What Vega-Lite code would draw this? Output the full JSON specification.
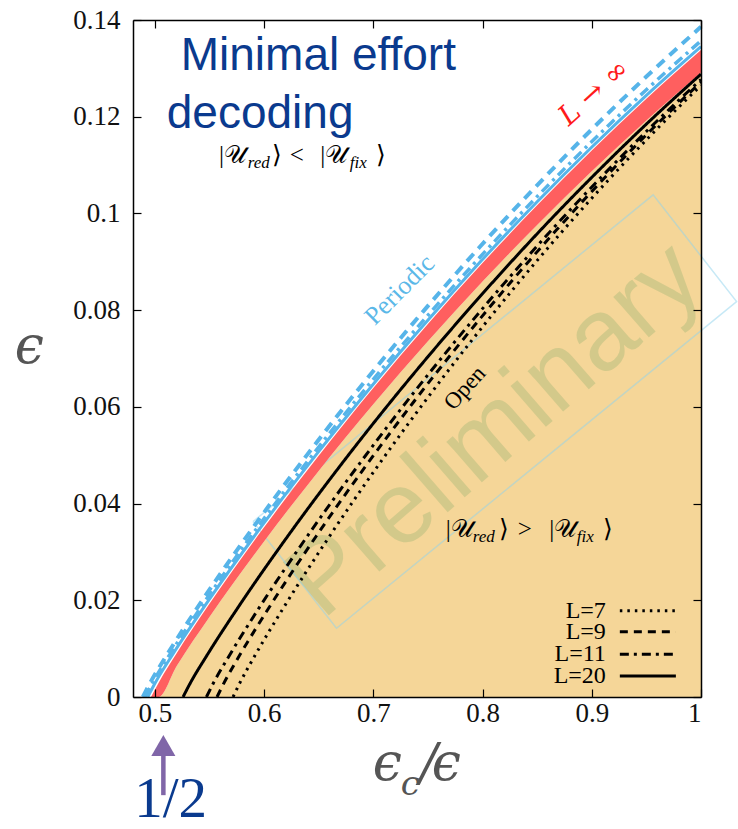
{
  "$schema": "https://vega.github.io/schema/vega-lite/v6.json",
  "width": 568,
  "height": 677,
  "autosize": {"type": "none"},
  "padding": {"left": 133, "top": 20, "right": 37, "bottom": 132},
  "background": "white",
  "config": {
    "view": {"stroke": null},
    "axis": {"grid": false, "labelFont": "Liberation Serif", "labelFontSize": 26, "labelColor": "#111111", "domainColor": "#000000", "domainWidth": 1.5, "tickColor": "#000000", "tickWidth": 1.2}
  },
  "datasets": {
    "band": [
      {"x": 0.4965, "lo": 0, "hi": 0},
      {"x": 0.5035, "lo": 0, "hi": 0.00297},
      {"x": 0.52, "lo": 0.00639, "hi": 0.00905},
      {"x": 0.55, "lo": 0.01656, "hi": 0.01926},
      {"x": 0.6, "lo": 0.03218, "hi": 0.03508},
      {"x": 0.65, "lo": 0.04676, "hi": 0.04989},
      {"x": 0.7, "lo": 0.06052, "hi": 0.06389},
      {"x": 0.75, "lo": 0.07355, "hi": 0.07714},
      {"x": 0.8, "lo": 0.08591, "hi": 0.08973},
      {"x": 0.85, "lo": 0.09762, "hi": 0.10167},
      {"x": 0.9, "lo": 0.10872, "hi": 0.11299},
      {"x": 0.95, "lo": 0.11922, "hi": 0.12371},
      {"x": 1.0, "lo": 0.1291, "hi": 0.1338}
    ],
    "blue": [
      {"s": "solid", "x": 0.4935, "y": 0}, {"s": "solid", "x": 0.5005, "y": 0.00299}, {"s": "solid", "x": 0.5172, "y": 0.00911}, {"s": "solid", "x": 0.5473, "y": 0.01935}, {"s": "solid", "x": 0.5976, "y": 0.03527}, {"s": "solid", "x": 0.6479, "y": 0.05016}, {"s": "solid", "x": 0.6982, "y": 0.06422}, {"s": "solid", "x": 0.7485, "y": 0.07754}, {"s": "solid", "x": 0.7988, "y": 0.0902}, {"s": "solid", "x": 0.8491, "y": 0.10221}, {"s": "solid", "x": 0.8994, "y": 0.11359}, {"s": "solid", "x": 0.9497, "y": 0.12436}, {"s": "solid", "x": 1.0, "y": 0.1345},
      {"s": "dashdot", "x": 0.491, "y": 0}, {"s": "dashdot", "x": 0.4981, "y": 0.00301}, {"s": "dashdot", "x": 0.5148, "y": 0.00919}, {"s": "dashdot", "x": 0.5451, "y": 0.01953}, {"s": "dashdot", "x": 0.5957, "y": 0.03558}, {"s": "dashdot", "x": 0.6462, "y": 0.0506}, {"s": "dashdot", "x": 0.6967, "y": 0.0648}, {"s": "dashdot", "x": 0.7473, "y": 0.07823}, {"s": "dashdot", "x": 0.7978, "y": 0.091}, {"s": "dashdot", "x": 0.8484, "y": 0.10312}, {"s": "dashdot", "x": 0.8989, "y": 0.1146}, {"s": "dashdot", "x": 0.9495, "y": 0.12547}, {"s": "dashdot", "x": 1.0, "y": 0.1357},
      {"s": "dashed", "x": 0.489, "y": 0}, {"s": "dashed", "x": 0.4961, "y": 0.00308}, {"s": "dashed", "x": 0.5129, "y": 0.00938}, {"s": "dashed", "x": 0.5433, "y": 0.01994}, {"s": "dashed", "x": 0.5941, "y": 0.03634}, {"s": "dashed", "x": 0.6448, "y": 0.05168}, {"s": "dashed", "x": 0.6955, "y": 0.06618}, {"s": "dashed", "x": 0.7463, "y": 0.0799}, {"s": "dashed", "x": 0.797, "y": 0.09295}, {"s": "dashed", "x": 0.8478, "y": 0.10532}, {"s": "dashed", "x": 0.8985, "y": 0.11705}, {"s": "dashed", "x": 0.9493, "y": 0.12815}, {"s": "dashed", "x": 1.0, "y": 0.1386}
    ],
    "black": [
      {"L": "L=20", "x": 0.5258, "y": 0}, {"L": "L=20", "x": 0.5324, "y": 0.00286}, {"L": "L=20", "x": 0.548, "y": 0.00872}, {"L": "L=20", "x": 0.5762, "y": 0.01853}, {"L": "L=20", "x": 0.6233, "y": 0.03377}, {"L": "L=20", "x": 0.6704, "y": 0.04803}, {"L": "L=20", "x": 0.7175, "y": 0.0615}, {"L": "L=20", "x": 0.7646, "y": 0.07425}, {"L": "L=20", "x": 0.8117, "y": 0.08637}, {"L": "L=20", "x": 0.8587, "y": 0.09788}, {"L": "L=20", "x": 0.9058, "y": 0.10877}, {"L": "L=20", "x": 0.9529, "y": 0.11909}, {"L": "L=20", "x": 1.0, "y": 0.1288},
      {"L": "L=11", "x": 0.5472, "y": 0}, {"L": "L=11", "x": 0.5535, "y": 0.00283}, {"L": "L=11", "x": 0.5684, "y": 0.00865}, {"L": "L=11", "x": 0.5953, "y": 0.01838}, {"L": "L=11", "x": 0.6403, "y": 0.03348}, {"L": "L=11", "x": 0.6853, "y": 0.04762}, {"L": "L=11", "x": 0.7302, "y": 0.06098}, {"L": "L=11", "x": 0.7752, "y": 0.07362}, {"L": "L=11", "x": 0.8202, "y": 0.08564}, {"L": "L=11", "x": 0.8651, "y": 0.09704}, {"L": "L=11", "x": 0.9101, "y": 0.10784}, {"L": "L=11", "x": 0.955, "y": 0.11807}, {"L": "L=11", "x": 1.0, "y": 0.1277},
      {"L": "L=9", "x": 0.5569, "y": 0}, {"L": "L=9", "x": 0.5631, "y": 0.00282}, {"L": "L=9", "x": 0.5776, "y": 0.00861}, {"L": "L=9", "x": 0.604, "y": 0.0183}, {"L": "L=9", "x": 0.648, "y": 0.03335}, {"L": "L=9", "x": 0.692, "y": 0.04743}, {"L": "L=9", "x": 0.736, "y": 0.06074}, {"L": "L=9", "x": 0.78, "y": 0.07333}, {"L": "L=9", "x": 0.824, "y": 0.0853}, {"L": "L=9", "x": 0.868, "y": 0.09666}, {"L": "L=9", "x": 0.912, "y": 0.10742}, {"L": "L=9", "x": 0.956, "y": 0.11761}, {"L": "L=9", "x": 1.0, "y": 0.1272},
      {"L": "L=7", "x": 0.5716, "y": 0}, {"L": "L=7", "x": 0.5776, "y": 0.00281}, {"L": "L=7", "x": 0.5916, "y": 0.00856}, {"L": "L=7", "x": 0.6171, "y": 0.0182}, {"L": "L=7", "x": 0.6597, "y": 0.03317}, {"L": "L=7", "x": 0.7022, "y": 0.04717}, {"L": "L=7", "x": 0.7448, "y": 0.0604}, {"L": "L=7", "x": 0.7873, "y": 0.07293}, {"L": "L=7", "x": 0.8298, "y": 0.08483}, {"L": "L=7", "x": 0.8724, "y": 0.09613}, {"L": "L=7", "x": 0.9149, "y": 0.10683}, {"L": "L=7", "x": 0.9575, "y": 0.11696}, {"L": "L=7", "x": 1.0, "y": 0.1265}
    ],
    "legend": [
      {"L": "L=7", "y": 0.01785},
      {"L": "L=9", "y": 0.01351},
      {"L": "L=11", "y": 0.00883},
      {"L": "L=20", "y": 0.00434}
    ],
    "rect": [
      {"o": 1, "x": 0.5899, "y": 0.03628},
      {"o": 2, "x": 0.6663, "y": 0.01421},
      {"o": 3, "x": 1.0326, "y": 0.08176},
      {"o": 4, "x": 0.9562, "y": 0.10383},
      {"o": 5, "x": 0.5899, "y": 0.03628}
    ],
    "math": [
      {"t": "|𝒰", "x": 0.5588, "y": 0.1104, "k": "m"},
      {"t": "red", "x": 0.585, "y": 0.1094, "k": "s"},
      {"t": "⟩", "x": 0.607, "y": 0.1104, "k": "m"},
      {"t": "<", "x": 0.6235, "y": 0.1104, "k": "m"},
      {"t": "|𝒰", "x": 0.6515, "y": 0.1104, "k": "m"},
      {"t": "fix", "x": 0.6784, "y": 0.1094, "k": "s"},
      {"t": "⟩", "x": 0.7022, "y": 0.1104, "k": "m"},
      {"t": "|𝒰", "x": 0.7663, "y": 0.03315, "k": "m"},
      {"t": "red", "x": 0.7911, "y": 0.0321, "k": "s"},
      {"t": "⟩", "x": 0.8149, "y": 0.03315, "k": "m"},
      {"t": ">", "x": 0.8323, "y": 0.03315, "k": "m"},
      {"t": "|𝒰", "x": 0.861, "y": 0.03315, "k": "m"},
      {"t": "fix", "x": 0.8863, "y": 0.0321, "k": "s"},
      {"t": "⟩", "x": 0.9101, "y": 0.03315, "k": "m"}
    ]
  },
  "layer": [
    {
      "data": {"name": "band"},
      "mark": {"type": "area", "color": "#F5D698", "interpolate": "monotone"},
      "encoding": {
        "x": {"field": "x", "type": "quantitative", "scale": {"domain": [0.48, 1.0], "nice": false, "zero": false},
          "axis": {"orient": "bottom", "values": [0.5, 0.6, 0.7, 0.8, 0.9, 1], "format": "~g", "title": null, "labelFont": "Liberation Serif", "labelFontSize": 27, "labelPadding": 11, "tickSize": -8, "zindex": 1}},
        "y": {"field": "lo", "type": "quantitative", "scale": {"domain": [0, 0.14], "nice": false, "zero": false},
          "axis": {"orient": "left", "values": [0, 0.02, 0.04, 0.06, 0.08, 0.1, 0.12, 0.14], "format": "~g", "title": null, "labelFont": "Liberation Serif", "labelFontSize": 27, "labelPadding": 21, "tickSize": -8, "zindex": 1}},
        "y2": {"datum": 0}
      }
    },
    {
      "data": {"values": [{"t": "Preliminary", "x": 0.8112, "y": 0.0552}]},
      "mark": {"type": "text", "font": "Liberation Sans", "fontSize": 102, "angle": -41, "align": "center", "baseline": "middle", "fill": "#8FAF6F", "opacity": 0.32},
      "encoding": {
        "x": {"field": "x", "type": "quantitative", "axis": null},
        "y": {"field": "y", "type": "quantitative", "axis": null},
        "text": {"field": "t"}
      }
    },
    {
      "data": {"name": "rect"},
      "mark": {"type": "line", "color": "#8FD3EE", "opacity": 0.5, "strokeWidth": 1.5},
      "encoding": {
        "x": {"field": "x", "type": "quantitative",
          "axis": {"orient": "top", "values": [0.5, 0.6, 0.7, 0.8, 0.9, 1], "labels": false, "title": null, "tickSize": -8, "zindex": 1}},
        "y": {"field": "y", "type": "quantitative",
          "axis": {"orient": "right", "values": [0, 0.02, 0.04, 0.06, 0.08, 0.1, 0.12, 0.14], "labels": false, "title": null, "tickSize": -8, "zindex": 1}},
        "order": {"field": "o", "type": "quantitative"}
      }
    },
    {
      "data": {"name": "band"},
      "mark": {"type": "area", "color": "#FF5F5F", "interpolate": "monotone"},
      "encoding": {
        "x": {"field": "x", "type": "quantitative", "axis": null},
        "y": {"field": "lo", "type": "quantitative", "axis": null},
        "y2": {"field": "hi"}
      }
    },
    {
      "data": {"name": "blue"},
      "transform": [{"filter": "datum.s === 'solid'"}],
      "mark": {"type": "line", "color": "#56B4E9", "strokeWidth": 3, "interpolate": "monotone"},
      "encoding": {
        "x": {"field": "x", "type": "quantitative", "axis": null},
        "y": {"field": "y", "type": "quantitative", "axis": null}
      }
    },
    {
      "data": {"name": "blue"},
      "transform": [{"filter": "datum.s === 'dashdot'"}],
      "mark": {"type": "line", "color": "#56B4E9", "strokeWidth": 3.5, "strokeDash": [10, 5, 3, 5], "interpolate": "monotone"},
      "encoding": {
        "x": {"field": "x", "type": "quantitative", "axis": null},
        "y": {"field": "y", "type": "quantitative", "axis": null}
      }
    },
    {
      "data": {"name": "blue"},
      "transform": [{"filter": "datum.s === 'dashed'"}],
      "mark": {"type": "line", "color": "#56B4E9", "strokeWidth": 4, "strokeDash": [10, 7], "interpolate": "monotone"},
      "encoding": {
        "x": {"field": "x", "type": "quantitative", "axis": null},
        "y": {"field": "y", "type": "quantitative", "axis": null}
      }
    },
    {
      "data": {"name": "black"},
      "mark": {"type": "line", "color": "#000000", "strokeWidth": 3, "interpolate": "monotone"},
      "encoding": {
        "x": {"field": "x", "type": "quantitative", "axis": null},
        "y": {"field": "y", "type": "quantitative", "axis": null},
        "detail": {"field": "L"},
        "strokeDash": {"field": "L", "type": "nominal", "legend": null,
          "scale": {"domain": ["L=7", "L=9", "L=11", "L=20"], "range": [[2.5, 5], [8, 6], [9, 5, 3, 5], [1, 0]]}}
      }
    },
    {
      "data": {"name": "legend"},
      "mark": {"type": "rule", "color": "#000000", "strokeWidth": 3},
      "encoding": {
        "x": {"datum": 0.9257, "type": "quantitative", "axis": null},
        "x2": {"datum": 0.977},
        "y": {"field": "y", "type": "quantitative", "axis": null},
        "strokeDash": {"field": "L", "type": "nominal", "legend": null}
      }
    },
    {
      "data": {"name": "legend"},
      "mark": {"type": "text", "font": "Liberation Serif", "fontSize": 24, "align": "right", "baseline": "middle", "color": "#000000"},
      "encoding": {
        "x": {"datum": 0.9129, "type": "quantitative", "axis": null},
        "y": {"field": "y", "type": "quantitative", "axis": null},
        "text": {"field": "L"}
      }
    },
    {
      "data": {"name": "math"},
      "transform": [{"filter": "datum.k === 'm'"}],
      "mark": {"type": "text", "font": "Liberation Serif", "fontSize": 25, "align": "left", "baseline": "alphabetic", "color": "#000000"},
      "encoding": {
        "x": {"field": "x", "type": "quantitative", "axis": null},
        "y": {"field": "y", "type": "quantitative", "axis": null},
        "text": {"field": "t"}
      }
    },
    {
      "data": {"name": "math"},
      "transform": [{"filter": "datum.k === 's'"}],
      "mark": {"type": "text", "font": "Liberation Serif", "fontSize": 17, "fontStyle": "italic", "align": "left", "baseline": "alphabetic", "color": "#000000"},
      "encoding": {
        "x": {"field": "x", "type": "quantitative", "axis": null},
        "y": {"field": "y", "type": "quantitative", "axis": null},
        "text": {"field": "t"}
      }
    },
    {
      "data": {"values": [{"t": "Minimal effort", "x": 0.5237, "y": 0.1297}, {"t": "decoding", "x": 0.5109, "y": 0.1177}]},
      "mark": {"type": "text", "font": "Liberation Sans", "fontSize": 46, "align": "left", "baseline": "alphabetic", "color": "#0A3A8E"},
      "encoding": {
        "x": {"field": "x", "type": "quantitative", "axis": null},
        "y": {"field": "y", "type": "quantitative", "axis": null},
        "text": {"field": "t"}
      }
    },
    {
      "data": {"values": [{"t": "Periodic", "x": 0.7242, "y": 0.0842}]},
      "mark": {"type": "text", "font": "Liberation Serif", "fontSize": 26, "angle": -45, "align": "center", "baseline": "middle", "color": "#5BB8E8"},
      "encoding": {
        "x": {"field": "x", "type": "quantitative", "axis": null},
        "y": {"field": "y", "type": "quantitative", "axis": null},
        "text": {"field": "t"}
      }
    },
    {
      "data": {"values": [{"t": "L → ∞", "x": 0.9023, "y": 0.1249}]},
      "mark": {"type": "text", "font": "DejaVu Serif", "fontSize": 28, "fontStyle": "italic", "angle": -42, "align": "center", "baseline": "middle", "color": "#FF1A1A"},
      "encoding": {
        "x": {"field": "x", "type": "quantitative", "axis": null},
        "y": {"field": "y", "type": "quantitative", "axis": null},
        "text": {"field": "t"}
      }
    },
    {
      "data": {"values": [{"t": "Open", "x": 0.7838, "y": 0.0639}]},
      "mark": {"type": "text", "font": "Liberation Serif", "fontSize": 23, "angle": -48, "align": "center", "baseline": "middle", "color": "#000000"},
      "encoding": {
        "x": {"field": "x", "type": "quantitative", "axis": null},
        "y": {"field": "y", "type": "quantitative", "axis": null},
        "text": {"field": "t"}
      }
    },
    {
      "data": {"values": [{"t": "ϵ", "x": 0.3717, "y": 0.0691}, {"t": "ϵ", "x": 0.6995, "y": -0.01717}, {"t": "/", "x": 0.7426, "y": -0.01717}, {"t": "ϵ", "x": 0.7535, "y": -0.01717}]},
      "mark": {"type": "text", "font": "DejaVu Serif", "fontSize": 52, "fontStyle": "italic", "align": "left", "baseline": "alphabetic", "color": "#555555"},
      "encoding": {
        "x": {"field": "x", "type": "quantitative", "axis": null},
        "y": {"field": "y", "type": "quantitative", "axis": null},
        "text": {"field": "t"}
      }
    },
    {
      "data": {"values": [{"t": "c", "x": 0.7252, "y": -0.02027}]},
      "mark": {"type": "text", "font": "DejaVu Serif", "fontSize": 34, "fontStyle": "italic", "align": "left", "baseline": "alphabetic", "color": "#555555"},
      "encoding": {
        "x": {"field": "x", "type": "quantitative", "axis": null},
        "y": {"field": "y", "type": "quantitative", "axis": null},
        "text": {"field": "t"}
      }
    },
    {
      "data": {"values": [{"x": 0.5078, "y": -0.0203, "y2": -0.0118}]},
      "mark": {"type": "rule", "color": "#8066A8", "strokeWidth": 4.5},
      "encoding": {
        "x": {"field": "x", "type": "quantitative", "axis": null},
        "y": {"field": "y", "type": "quantitative", "axis": null},
        "y2": {"field": "y2"}
      }
    },
    {
      "data": {"values": [{"x": 0.5078, "y": -0.01003}]},
      "mark": {"type": "point", "shape": "triangle-up", "filled": true, "color": "#8066A8", "size": 580, "opacity": 1},
      "encoding": {
        "x": {"field": "x", "type": "quantitative", "axis": null},
        "y": {"field": "y", "type": "quantitative", "axis": null}
      }
    },
    {
      "data": {"values": [{"t": "1/2", "x": 0.5145, "y": -0.0249}]},
      "mark": {"type": "text", "font": "Liberation Serif", "fontSize": 57, "align": "center", "baseline": "alphabetic", "color": "#0A3A8E"},
      "encoding": {
        "x": {"field": "x", "type": "quantitative", "axis": null},
        "y": {"field": "y", "type": "quantitative", "axis": null},
        "text": {"field": "t"}
      }
    }
  ],
  "resolve": {"axis": {"x": "independent", "y": "independent"}}
}
